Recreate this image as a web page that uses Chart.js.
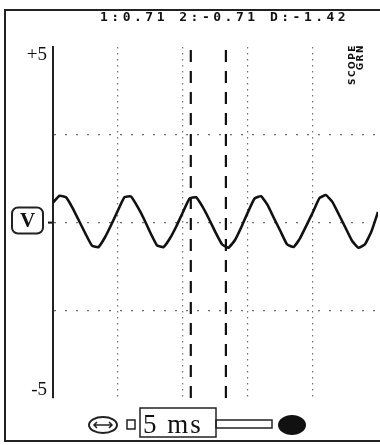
<!DOCTYPE html>
<html><head><meta charset="utf-8">
<script src="https://cdn.jsdelivr.net/npm/chart.js@4.4.1/dist/chart.umd.min.js"></script>
<style>html,body{margin:0;padding:0;background:#fff;overflow:hidden}</style>
</head><body><canvas id="c" width="380" height="445"></canvas>
<script>
const readoutText = '1:0.71 2:-0.71 D:-1.42';
const unitLabel = 'V';
const timebaseLabel = '5 ms';
const sideLabels = ['SCOPE', 'GRN'];
const timesMs = [0,0.5,1,1.5,2,2.5,3,3.5,4,4.5,5,5.5,6,6.5,7,7.5,8,8.5,9,9.5,10,10.5,11,11.5,12,12.5,13,13.5,14,14.5,15,15.5,16,16.5,17,17.5,18,18.5,19,19.5,20,20.5,21,21.5,22,22.5,23,23.5,24,24.5,25];
const volts = [0.57,0.76,0.72,0.42,0.05,-0.32,-0.66,-0.70,-0.42,-0.05,0.35,0.72,0.74,0.45,0.10,-0.30,-0.65,-0.70,-0.45,-0.10,0.30,0.68,0.72,0.45,0.10,-0.28,-0.62,-0.72,-0.50,-0.12,0.30,0.68,0.75,0.50,0.12,-0.25,-0.62,-0.70,-0.45,-0.08,0.30,0.70,0.78,0.58,0.22,-0.15,-0.52,-0.72,-0.62,-0.25,0.30];
const cursorTimes = [10.6, 13.3];
const yTickValues = [-5, 5];
const yTickLabels = ['-5', '+5'];
const xGridValues = [5, 10, 15, 20];
const yGridValues = [-2.5, 0, 2.5];

const wave = timesMs.map((t, i) => ({x: t, y: volts[i]}));
const cursorSets = cursorTimes.map(t => ({
  data: [{x: t, y: -5}, {x: t, y: 5}],
  borderColor: '#111', borderWidth: 2.2, borderDash: [12, 9],
  pointRadius: 0, order: 1
}));

const decor = {
  id: 'decor',
  afterDraw(chart) {
    const ctx = chart.ctx;
    const ys = chart.scales.y;
    ctx.save();
    // outer frame
    ctx.strokeStyle = '#222'; ctx.lineWidth = 2;
    ctx.beginPath();
    ctx.moveTo(380, 10); ctx.lineTo(5, 10); ctx.lineTo(5, 441); ctx.lineTo(380, 441);
    ctx.stroke();
    // readout
    ctx.fillStyle = '#111';
    ctx.font = 'bold 13px "DejaVu Sans Mono"';
    ctx.letterSpacing = '3.5px';
    ctx.textAlign = 'left'; ctx.textBaseline = 'middle';
    ctx.fillText(readoutText, 100, 18);
    // side labels rotated
    ctx.save();
    ctx.translate(355, 100); ctx.rotate(-Math.PI / 2);
    ctx.font = 'bold 9px "DejaVu Sans"';
    ctx.letterSpacing = '1.5px';
    ctx.textAlign = 'right'; ctx.textBaseline = 'alphabetic';
    ctx.fillText(sideLabels[0], 56, 0);
    ctx.fillText(sideLabels[1], 56, 8);
    ctx.restore();
    ctx.letterSpacing = '0px';
    // unit box
    const cy = ys.getPixelForValue(0) - 2;
    ctx.lineWidth = 2; ctx.strokeStyle = '#222';
    ctx.beginPath(); ctx.roundRect(12, cy - 13, 31, 26, 6); ctx.stroke();
    ctx.font = 'bold 21px "Liberation Serif"';
    ctx.textAlign = 'center'; ctx.textBaseline = 'middle';
    ctx.fillText(unitLabel, 27.5, cy + 1);
    // bottom controls
    ctx.lineWidth = 2;
    ctx.beginPath(); ctx.ellipse(103, 425, 14, 8, 0, 0, Math.PI * 2); ctx.stroke();
    ctx.lineWidth = 1.5;
    ctx.beginPath(); ctx.moveTo(94, 425); ctx.lineTo(112, 425);
    ctx.moveTo(97, 422); ctx.lineTo(94, 425); ctx.lineTo(97, 428);
    ctx.moveTo(109, 422); ctx.lineTo(112, 425); ctx.lineTo(109, 428);
    ctx.stroke();
    ctx.strokeRect(127, 420, 8, 9);
    ctx.strokeRect(140, 408, 76, 29);
    ctx.strokeRect(216, 420, 56, 8);
    ctx.beginPath(); ctx.ellipse(292, 425, 14, 10, 0, 0, Math.PI * 2); ctx.fill();
    ctx.font = '27px "Liberation Serif"';
    ctx.letterSpacing = '2px';
    ctx.textAlign = 'left'; ctx.textBaseline = 'alphabetic';
    ctx.fillText(timebaseLabel, 143, 433);
    ctx.restore();
  }
};

new Chart(document.getElementById('c'), {
  type: 'line',
  data: {
    datasets: [
      {data: wave, borderColor: '#111', borderWidth: 2.6, pointRadius: 0, tension: 0.12, order: 0},
      ...cursorSets
    ]
  },
  options: {
    responsive: false, animation: false, devicePixelRatio: 1,
    layout: {padding: {top: 47, bottom: 47, left: 0, right: 2}},
    plugins: {legend: {display: false}, tooltip: {enabled: false}, title: {display: false}},
    scales: {
      x: {
        type: 'linear', min: 0, max: 25,
        ticks: {display: false, stepSize: 5},
        grid: {
          color: c => xGridValues.includes(c.tick && c.tick.value) ? '#707070' : 'rgba(0,0,0,0)',
          lineWidth: 1.2, drawTicks: false
        },
        border: {display: false, dash: [1.5, 4.5]},
        afterFit: s => { s.height = 0; }
      },
      y: {
        min: -5, max: 5,
        ticks: {
          stepSize: 2.5, padding: 1, color: '#111',
          font: {family: '"Liberation Serif"', size: 19, lineHeight: 0.85},
          callback: v => {
            const i = yTickValues.indexOf(v);
            if (i < 0) return '';
            return v > 0 ? ['', yTickLabels[i]] : [yTickLabels[i], ''];
          }
        },
        grid: {
          color: c => yGridValues.includes(c.tick && c.tick.value) ? '#707070' : 'rgba(0,0,0,0)',
          tickColor: c => (c.tick && c.tick.value === 0) ? '#111' : 'rgba(0,0,0,0)',
          tickLength: 5, tickWidth: 2, lineWidth: 1.2
        },
        border: {display: true, color: '#222', width: 2, dash: [2, 9]},
        afterFit: s => { s.width = 53; }
      }
    }
  },
  plugins: [decor]
});
</script>
</body></html>
